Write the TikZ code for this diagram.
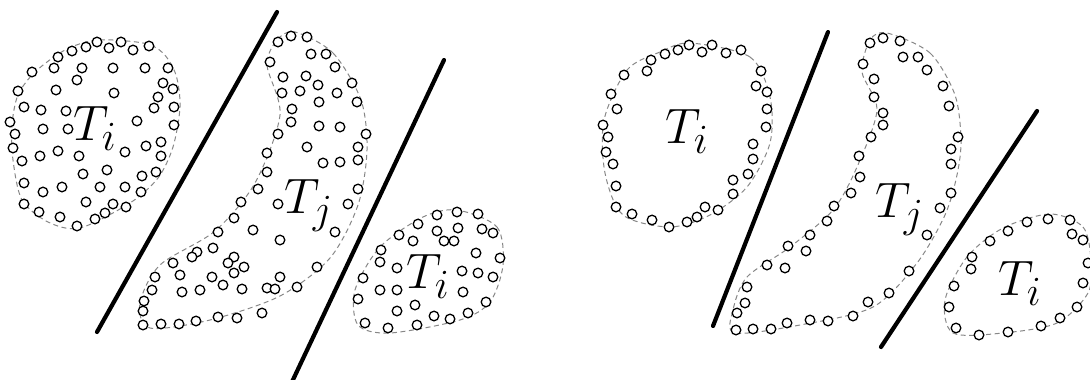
\documentclass[tikz,border=0pt]{standalone}
\usetikzlibrary{calc}
\definecolor{hullgray}{RGB}{135,135,135}
\tikzset{
 pt/.style={draw=black,fill=white,line width=1.3pt},
 hull/.style={draw=hullgray,line width=1pt,dash pattern=on 5pt off 3.5pt},
 cutline/.style={line width=4.2pt,line cap=round},
 setlabel/.style={inner sep=0pt,anchor=base west,font=\Huge,scale=2}
}
\begin{document}
\begin{tikzpicture}[x=1pt,y=-1pt]
\useasboundingbox (0,0) rectangle (1090,380);
\clip (0,0) rectangle (1090,380);
% hulls of the point sets
\draw[hull] plot[smooth cycle] coordinates {(97,40) (143,43) (163,53) (176,75)
 (180,107) (173,147) (158,178) (130,203) (80,228) (48,222) (22,200) (13,160)
 (12,125) (18,95) (35,72) (65,50)};
\draw[hull] plot[smooth cycle] coordinates {(295,32) (333,53) (361,100) (367,150)
 (358,205) (330,258) (280,296) (210,320) (150,328) (140,303) (160,265) (215,231)
 (255,183) (280,115) (267,65) (277,40)};
\draw[hull] plot[smooth cycle] coordinates {(457,210) (497,227) (503,265) (490,302)
 (460,320) (390,333) (358,325) (355,290) (380,247) (423,217)};
\draw[hull] plot[smooth cycle] coordinates {(690,43) (750,57) (770,97) (770,143)
 (747,187) (710,215) (670,227) (623,215) (605,173) (604,120) (627,70) (660,52)};
\draw[hull] plot[smooth cycle] coordinates {(887,33) (930,53) (955,95) (961,140)
 (957,175) (945,215) (917,263) (873,307) (800,325) (735,333) (733,310) (747,277)
 (790,247) (833,210) (857,167) (877,110) (862,72) (870,40)};
\draw[hull] plot[smooth cycle] coordinates {(1050,214) (1083,227) (1091,260)
 (1088,293) (1057,323) (1003,333) (953,333) (945,300) (967,257) (1003,228)};
% separating lines
\draw[cutline] (277,12) -- (97,332);
\draw[cutline] (444,60) -- (291,384);
\draw[cutline] (828,32) -- (713,326);
\draw[cutline] (1037,111) -- (881,347);
% left: full point sets
\foreach \px/\py in {58/57,72/51,86/47,97/42,109/48,121/42,133/50,149/46,
 32/72,54/68,82/68,113/68,145/68,168/68,77/80,163/83,173/89,
 18/91,56/90,114/93,158/97,24/107,41/110,66/111,154/108,174/107,
 10/122,15/134,43/129,68/129,137/121,174/125,
 13/148,22/161,40/156,58/151,79/156,125/152,146/146,161/142,161/156,
 83/174,107/170,142/176,156/172,24/183,43/192,62/187,100/187,125/187,141/192,
 24/204,39/212,60/217,86/202,113/204,126/207,105/213,95/219,77/226}
 \draw[pt] (\px,\py) circle[radius=4.8pt];
\foreach \px/\py in {278/42,291/36,307/37,311/54,326/54,270/62,335/67,
 283/77,306/76,318/85,352/83,282/93,300/91,319/102,337/93,357/102,
 292/109,291/122,278/134,319/126,340/127,366/134,267/153,307/147,358/147,
 323/163,340/162,358/160,267/172,258/189,358/189,241/202,278/204,348/204,
 234/218,335/232,218/232,253/230,280/240,
 197/252,213/248,234/257,173/263,192/257,228/263,244/267,317/267,
 155/277,180/275,212/277,234/273,280/277,267/288,
 152/290,182/292,200/290,223/285,242/289,275/289,297/287,
 144/301,143/311,143/325,161/324,179/324,196/321,218/317,237/318,262/313}
 \draw[pt] (\px,\py) circle[radius=4.8pt];
\foreach \px/\py in {437/215,457/212,478/214,418/224,437/231,458/228,482/229,493/233,
 399/235,413/241,444/241,454/241,381/250,476/253,500/258,
 380/262,397/268,462/271,478/273,493/277,363/278,380/290,397/290,463/292,
 358/299,486/302,415/305,397/311,
 365/323,388/328,417/325,434/316,450/319,468/313}
 \draw[pt] (\px,\py) circle[radius=4.8pt];
% right: boundary points only
\foreach \px/\py in {651/60,665/54,678/50,689/45,702/52,712/45,726/53,741/50,
 624/75,647/71,761/71,611/94,756/86,767/92,617/109,767/109,
 603/125,766/127,608/137,753/144,606/152,753/159,613/164,
 748/174,733/180,616/186,733/194,
 616/207,632/214,652/220,669/227,687/222,697/217,705/207,718/210}
 \draw[pt] (\px,\py) circle[radius=4.8pt];
\foreach \px/\py in {870/43,883/38,900/41,903/57,918/57,927/70,943/86,949/106,
 958/137,951/149,951/164,951/193,940/208,927/235,909/271,889/293,868/302,
 853/316,828/321,810/320,787/323,771/329,753/329,736/330,
 737/313,745/303,747/287,767/265,785/268,788/246,806/251,810/235,
 827/221,834/206,851/193,860/177,859/156,871/137,883/125,883/113,
 874/97,874/79,863/64}
 \draw[pt] (\px,\py) circle[radius=4.8pt];
\foreach \px/\py in {1027/222,1048/219,1070/220,1008/231,990/241,1072/234,1083/240,
 972/257,971/269,1088/263,954/286,1083/283,949/307,1077/307,
 956/328,979/335,1008/332,1041/326,1060/318}
 \draw[pt] (\px,\py) circle[radius=4.8pt];
% labels
\node[setlabel] (ti1) at (73,140) {$T_i$};
\node[setlabel] (tj1) at (284,213) {$T_j$};
\node[setlabel] (ti2) at (406,288) {$T_i$};
\node[setlabel] (ti3) at (665,143) {$T_i$};
\node[setlabel] (tj2) at (875,217) {$T_j$};
\node[setlabel] (ti4) at (998,295) {$T_i$};
\end{tikzpicture}
\end{document}
